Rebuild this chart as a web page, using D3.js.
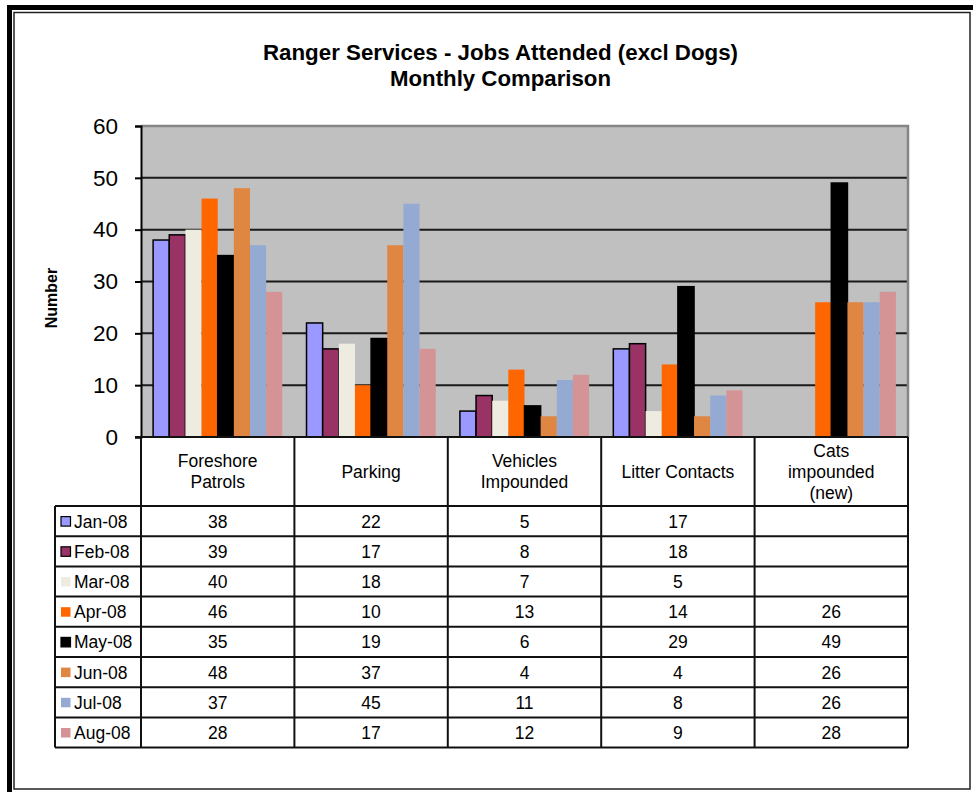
<!DOCTYPE html>
<html>
<head>
<meta charset="utf-8">
<script src="https://cdn.jsdelivr.net/npm/d3@7"></script>
<style>
  body { margin: 0; background: #fff; }
  svg text { font-family: "Liberation Sans", Arial, sans-serif; }
</style>
</head>
<body>
<div id="chart"></div>
<script>
const categories = [['Foreshore', 'Patrols'], ['Parking'], ['Vehicles', 'Impounded'], ['Litter Contacts'], ['Cats', 'impounded', '(new)']];
const months = ['Jan-08', 'Feb-08', 'Mar-08', 'Apr-08', 'May-08', 'Jun-08', 'Jul-08', 'Aug-08'];
const jan08 = [38, 22, 5, 17, null];
const feb08 = [39, 17, 8, 18, null];
const mar08 = [40, 18, 7, 5, null];
const apr08 = [46, 10, 13, 14, 26];
const may08 = [35, 19, 6, 29, 49];
const jun08 = [48, 37, 4, 4, 26];
const jul08 = [37, 45, 11, 8, 26];
const aug08 = [28, 17, 12, 9, 28];
const yTicks = [0, 10, 20, 30, 40, 50, 60];

const series = [jan08, feb08, mar08, apr08, may08, jun08, jul08, aug08];
const colors = ['#9999ff', '#993366', '#eeece1', '#ff6600', '#000000', '#de8642', '#95aad2', '#d49394'];
const outlined = [true, true, false, false, true, false, false, false];

const width = 973;
const height = 792;
const plot = { left: 141, right: 908, top: 126, bottom: 437 };
const tableLeft = 55;
const headerBottom = 506;
const rowH = 30.2;

const svg = d3.select('#chart')
	.append('svg')
	.attr('width', width)
	.attr('height', height);

// outer frame
svg.append('path')
	.attr('d', `M9.5,${height} V7.5 H${width}`)
	.attr('fill', 'none')
	.attr('stroke', '#000')
	.attr('stroke-width', 5);
svg.append('rect')
	.attr('x', 14)
	.attr('y', 12.5)
	.attr('width', 956)
	.attr('height', 776.5)
	.attr('fill', 'none')
	.attr('stroke', '#222')
	.attr('stroke-width', 1.5);

// title
const title = svg.append('g').attr('font-weight', 'bold').attr('text-anchor', 'middle');
title.append('text')
	.attr('x', 500.5).attr('y', 60)
	.attr('font-size', 22.5)
	.attr('textLength', 475).attr('lengthAdjust', 'spacingAndGlyphs')
	.text('Ranger Services - Jobs Attended (excl Dogs)');
title.append('text')
	.attr('x', 500.5).attr('y', 86)
	.attr('font-size', 22.5)
	.attr('textLength', 221).attr('lengthAdjust', 'spacingAndGlyphs')
	.text('Monthly Comparison');

const x0 = d3.scaleBand()
	.domain(d3.range(categories.length))
	.range([plot.left, plot.right]);

const x1 = d3.scaleBand()
	.domain(d3.range(months.length))
	.range([0, x0.bandwidth()])
	.paddingOuter(0.75);

const y = d3.scaleLinear()
	.domain([0, 60])
	.range([plot.bottom, plot.top]);

// plot area
svg.append('rect')
	.attr('x', plot.left).attr('y', plot.top)
	.attr('width', plot.right - plot.left).attr('height', plot.bottom - plot.top)
	.attr('fill', '#c0c0c0');

svg.append('g')
	.selectAll('line')
	.data(yTicks.filter(d => d > 0 && d < 60))
	.join('line')
	.attr('x1', plot.left).attr('x2', plot.right)
	.attr('y1', d => y(d)).attr('y2', d => y(d))
	.attr('stroke', '#1a1a1a')
	.attr('stroke-width', 2);

svg.append('path')
	.attr('d', `M${plot.left},${plot.top} H${plot.right} V${plot.bottom}`)
	.attr('fill', 'none')
	.attr('stroke', '#858585')
	.attr('stroke-width', 2.5);

// bars
series.forEach((values, i) => {
	svg.append('g')
		.selectAll('rect')
		.data(values.map((v, c) => ({ v, c })).filter(d => d.v != null))
		.join('rect')
		.attr('x', d => x0(d.c) + x1(i))
		.attr('y', d => y(d.v))
		.attr('width', x1.bandwidth())
		.attr('height', d => y(0) - y(d.v))
		.attr('fill', colors[i])
		.attr('stroke', outlined[i] ? '#000' : 'none')
		.attr('stroke-width', 1.5);
});

// y axis
const yAxis = svg.append('g')
	.attr('transform', `translate(${plot.left},0)`)
	.call(d3.axisLeft(y).tickValues(yTicks).tickSize(6).tickPadding(17));
yAxis.select('.domain').attr('stroke-width', 2);
yAxis.selectAll('.tick line').attr('stroke-width', 2);
yAxis.selectAll('text')
	.attr('font-size', 22.5)
	.attr('fill', '#000')
	.attr('font-family', '"Liberation Sans", Arial, sans-serif');

svg.append('text')
	.attr('transform', `translate(57,298) rotate(-90)`)
	.attr('text-anchor', 'middle')
	.attr('font-weight', 'bold')
	.attr('font-size', 16)
	.text('Number');

// data table
const tableBottom = headerBottom + rowH * months.length;
const table = svg.append('g')
	.attr('stroke', '#111')
	.attr('stroke-width', 2)
	.attr('fill', 'none');

// header row borders
table.append('line')
	.attr('x1', plot.left - 6).attr('x2', plot.right)
	.attr('y1', plot.bottom).attr('y2', plot.bottom);
table.selectAll('.vcol')
	.data(d3.range(categories.length + 1))
	.join('line')
	.attr('x1', d => plot.left + d * x0.bandwidth())
	.attr('x2', d => plot.left + d * x0.bandwidth())
	.attr('y1', plot.bottom)
	.attr('y2', tableBottom);
table.selectAll('.hrow')
	.data(d3.range(months.length + 1))
	.join('line')
	.attr('x1', tableLeft).attr('x2', plot.right)
	.attr('y1', d => headerBottom + d * rowH)
	.attr('y2', d => headerBottom + d * rowH);
table.append('line')
	.attr('x1', tableLeft).attr('x2', tableLeft)
	.attr('y1', headerBottom).attr('y2', tableBottom);

// category headers
const headerMid = (plot.bottom + headerBottom) / 2;
categories.forEach((lines, c) => {
	const t = svg.append('text')
		.attr('text-anchor', 'middle')
		.attr('font-size', 17.5)
		.attr('x', x0(c) + x0.bandwidth() / 2);
	lines.forEach((line, k) => {
		t.append('tspan')
			.attr('x', x0(c) + x0.bandwidth() / 2)
			.attr('y', headerMid + (k - (lines.length - 1) / 2) * 21 + 6)
			.text(line);
	});
});

// legend column and values
months.forEach((m, i) => {
	const cy = headerBottom + i * rowH + rowH / 2;
	svg.append('rect')
		.attr('x', 61).attr('y', cy - 4.5)
		.attr('width', 9.5).attr('height', 9.5)
		.attr('fill', colors[i])
		.attr('stroke', outlined[i] ? '#000' : 'none')
		.attr('stroke-width', 1.2);
	svg.append('text')
		.attr('x', 74).attr('y', cy + 6.5)
		.attr('font-size', 17.5)
		.text(m);
	series[i].forEach((v, c) => {
		if (v == null) return;
		svg.append('text')
			.attr('x', x0(c) + x0.bandwidth() / 2)
			.attr('y', cy + 6.5)
			.attr('text-anchor', 'middle')
			.attr('font-size', 17.5)
			.text(v);
	});
});
</script>
</body>
</html>
